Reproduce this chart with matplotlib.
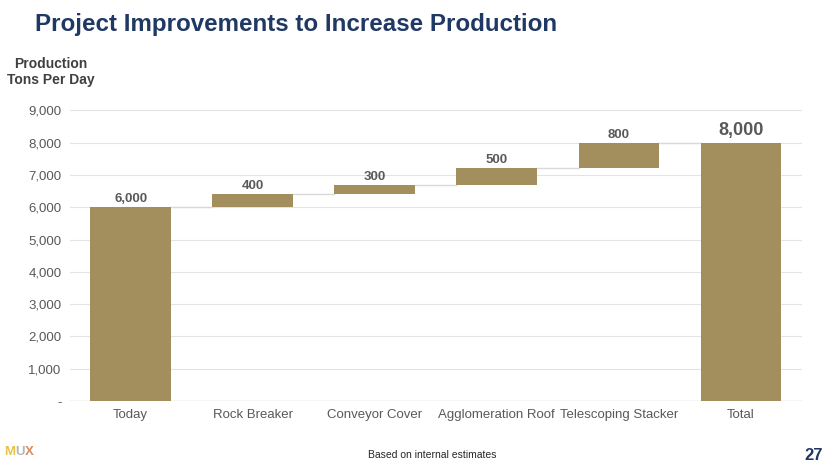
import numpy as np
import matplotlib.pyplot as plt

# Waterfall data (tons per day)
categories = ["Today", "Rock Breaker", "Conveyor Cover", "Agglomeration Roof",
              "Telescoping Stacker", "Total"]
values = [6000, 400, 300, 500, 800, 8000]
is_total = [True, False, False, False, False, True]
y_ticks = [0, 1000, 2000, 3000, 4000, 5000, 6000, 7000, 8000, 9000]

bar_color = "#A38F5E"
text_gray = "#595959"
navy = "#1F3864"

plt.rcParams["font.family"] = ["Liberation Sans", "DejaVu Sans"]

fig = plt.figure(figsize=(8.3, 4.67), dpi=100)
ax = fig.add_axes([0.084, 0.141, 0.882, 0.623])

# compute bottoms for waterfall
bottoms = []
running = 0
for v, tot in zip(values, is_total):
    if tot:
        bottoms.append(0)
        running = v
    else:
        bottoms.append(running)
        running += v

x = np.arange(len(categories))
width = 0.66
ax.bar(x, values, bottom=bottoms, width=width, color=bar_color, zorder=3)

# connector lines between bars
for i in range(len(values) - 1):
    level = bottoms[i] + values[i]
    ax.plot([x[i] + width / 2, x[i + 1] - width / 2], [level, level],
            color="#D9D9D9", lw=1, zorder=2)

# value labels
for i, (v, b) in enumerate(zip(values, bottoms)):
    big = i == len(values) - 1
    ax.text(x[i], b + v + (110 if big else 60), f"{v:,}", ha="center", va="bottom",
            fontsize=13 if big else 9.5, fontweight="bold", color=text_gray, zorder=4)

ax.set_xlim(-0.5, len(categories) - 0.5)
ax.set_ylim(0, 9000)
ax.set_yticks(y_ticks)
ax.set_yticklabels(["-"] + [f"{t:,}" for t in y_ticks[1:]])
ax.set_xticks(x)
ax.set_xticklabels(categories)
ax.tick_params(axis="both", length=0, labelsize=9.5, colors=text_gray)
ax.tick_params(axis="x", pad=6)
ax.tick_params(axis="y", pad=6)
ax.grid(axis="y", color="#E3E3E3", lw=0.8, zorder=0)
for s in ax.spines.values():
    s.set_visible(False)
ax.axhline(0, color="#D9D9D9", lw=1, zorder=1)

# titles and annotations
fig.text(35 / 830, 1 - 25 / 467, "Project Improvements to Increase Production",
         fontsize=17.4, fontweight="bold", color=navy, va="center", ha="left")
fig.text(51 / 830, 1 - 72 / 467, "Production\nTons Per Day", fontsize=10,
         fontweight="bold", color="#404040", ha="center", va="center",
         linespacing=1.2)
fig.text(432 / 830, 1 - 455 / 467, "Based on internal estimates", fontsize=7.5,
         color="#262626", ha="center", va="center")
fig.text(823 / 830, 1 - 455 / 467, "27", fontsize=12, fontweight="bold",
         color=navy, ha="right", va="center")

# MUX logo as coloured letters
logo_x = 4 / 830
for letter, col in zip("MUX", ["#E6C24A", "#B5B5B5", "#D98C5F"]):
    t = fig.text(logo_x, 1 - 452 / 467, letter, fontsize=9.5, fontweight="bold",
                 color=col, ha="left", va="center")
    fig.canvas.draw()
    bb = t.get_window_extent()
    logo_x = bb.x1 / fig.bbox.width

fig.savefig("out.png", dpi=100)
